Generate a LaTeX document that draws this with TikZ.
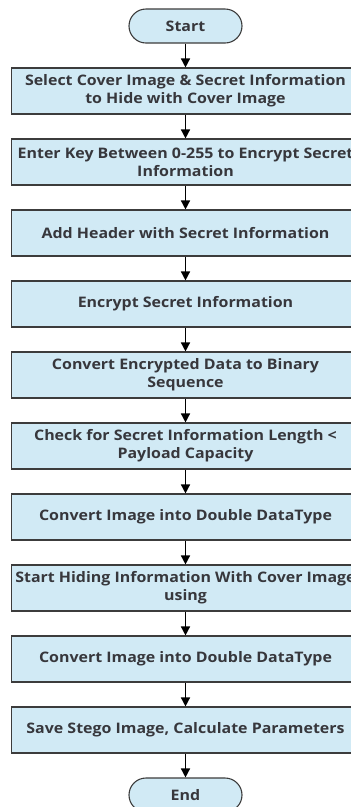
\documentclass[tikz,border=0pt]{standalone}
\usepackage{xcolor}
\usepackage{fontspec}
\setmainfont{Open Sans}[FakeStretch=1.1]
\usepackage{tikz}
\usetikzlibrary{arrows.meta}
\definecolor{boxfill}{RGB}{209,234,245}
\definecolor{boxline}{RGB}{60,60,60}
\definecolor{textdark}{RGB}{55,55,60}

\begin{document}
\begin{tikzpicture}[x=1pt, y=-1pt,
  terminal/.style={rectangle, draw=boxline, fill=boxfill, line width=1.1pt, minimum width=113pt, minimum height=34pt, rounded corners=17pt, align=center, text=textdark, font=\fontsize{14.5}{18}\selectfont\bfseries},
  process/.style={rectangle, draw=boxline, fill=boxfill, line width=1.1pt, minimum width=348pt, minimum height=46pt, inner sep=2pt, align=center, text=textdark, font=\fontsize{14.5}{18}\selectfont\bfseries},
  arrow/.style={-{Triangle[width=9pt,length=9pt]}, line width=1.4pt}
]
\useasboundingbox (0,0) rectangle (351,807);
\clip (0,0) rectangle (351,807);

% Terminals
\node[terminal] (start) at (185.5,26) {Start};
\node[terminal] (end) at (185.5,795) {End};

% Steps
\node[process] (select) at (185.5,91) {Select Cover Image \& Secret Information\\to Hide with Cover Image};
\node[process] (key) at (185.5,162) {Enter Key Between 0-255 to Encrypt Secret\\Information};
\node[process] (header) at (185.5,233) {Add Header with Secret Information};
\node[process] (encrypt) at (185.5,304) {Encrypt Secret Information};
\node[process] (binary) at (185.5,375) {Convert Encrypted Data to Binary\\Sequence};
\node[process] (check) at (185.5,446) {Check for Secret Information Length <\\Payload Capacity};
\node[process] (double) at (185.5,517) {Convert Image into Double DataType};
\node[process] (hiding) at (185.5,588) {Start Hiding Information With Cover Image\\using};
\node[process] (doubletwo) at (185.5,659) {Convert Image into Double DataType};
\node[process] (save) at (185.5,730) {Save Stego Image, Calculate Parameters};

% Arrows
\draw[arrow] (start) -- (select);
\draw[arrow] (select) -- (key);
\draw[arrow] (key) -- (header);
\draw[arrow] (header) -- (encrypt);
\draw[arrow] (encrypt) -- (binary);
\draw[arrow] (binary) -- (check);
\draw[arrow] (check) -- (double);
\draw[arrow] (double) -- (hiding);
\draw[arrow] (hiding) -- (doubletwo);
\draw[arrow] (doubletwo) -- (save);
\draw[arrow] (save) -- (end);

\end{tikzpicture}
\end{document}
